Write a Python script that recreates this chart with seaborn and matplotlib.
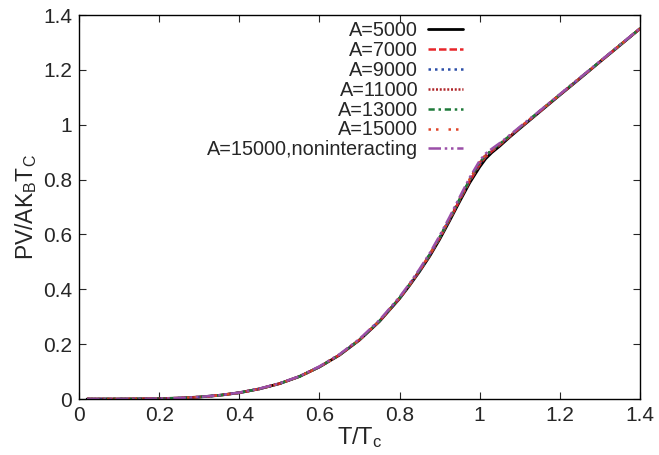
import matplotlib
matplotlib.use("Agg")
import matplotlib.pyplot as plt
import seaborn as sns
import pandas as pd

T = [0.02, 0.1, 0.15, 0.2, 0.25, 0.3, 0.35, 0.4, 0.45, 0.5, 0.55, 0.6, 0.65, 0.7, 0.75, 0.8,
     0.825, 0.85, 0.875, 0.9, 0.925, 0.95, 0.975, 1.0, 1.015, 1.03, 1.05, 1.075, 1.1,
     1.15, 1.2, 1.25, 1.3, 1.35, 1.4]
P_5000 = [0, 0.0001, 0.0005, 0.0015, 0.0035, 0.0073, 0.0135, 0.023, 0.037, 0.056, 0.082, 0.117, 0.16, 0.215, 0.283, 0.366,
          0.414, 0.465, 0.52, 0.582, 0.65, 0.72, 0.788, 0.846, 0.876, 0.898, 0.922, 0.955, 0.986,
          1.047, 1.108, 1.168, 1.229, 1.289, 1.35]
P_7000 = [0, 0.0001, 0.0005, 0.0015, 0.0035, 0.0073, 0.0135, 0.023, 0.037, 0.056, 0.082, 0.117, 0.161, 0.216, 0.284, 0.367,
          0.416, 0.467, 0.523, 0.586, 0.654, 0.725, 0.794, 0.854, 0.883, 0.903, 0.926, 0.957, 0.988,
          1.048, 1.109, 1.169, 1.229, 1.29, 1.35]
P_9000 = [0, 0.0001, 0.0005, 0.0015, 0.0035, 0.0073, 0.0135, 0.023, 0.037, 0.056, 0.082, 0.117, 0.161, 0.216, 0.285, 0.368,
          0.417, 0.468, 0.525, 0.588, 0.656, 0.727, 0.797, 0.858, 0.886, 0.905, 0.928, 0.958, 0.988,
          1.049, 1.109, 1.169, 1.23, 1.29, 1.35]
P_11000 = [0, 0.0001, 0.0005, 0.0015, 0.0035, 0.0073, 0.0135, 0.023, 0.037, 0.056, 0.082, 0.117, 0.161, 0.216, 0.285, 0.368,
           0.417, 0.469, 0.526, 0.589, 0.657, 0.728, 0.798, 0.86, 0.888, 0.906, 0.929, 0.959, 0.989,
           1.049, 1.11, 1.17, 1.23, 1.29, 1.35]
P_13000 = [0, 0.0001, 0.0005, 0.0015, 0.0035, 0.0073, 0.0135, 0.023, 0.037, 0.056, 0.082, 0.117, 0.161, 0.216, 0.285, 0.369,
           0.418, 0.47, 0.527, 0.59, 0.658, 0.729, 0.8, 0.862, 0.889, 0.907, 0.93, 0.96, 0.99,
           1.05, 1.11, 1.17, 1.23, 1.29, 1.35]
P_15000 = [0, 0.0001, 0.0005, 0.0015, 0.0035, 0.0073, 0.0135, 0.023, 0.037, 0.056, 0.082, 0.117, 0.161, 0.216, 0.285, 0.369,
           0.418, 0.47, 0.527, 0.59, 0.658, 0.73, 0.801, 0.863, 0.89, 0.908, 0.93, 0.96, 0.99,
           1.05, 1.11, 1.17, 1.23, 1.29, 1.35]
P_nonint = [0, 0.0001, 0.0005, 0.0015, 0.0036, 0.0075, 0.0138, 0.0235, 0.038, 0.057, 0.083, 0.119, 0.163, 0.219, 0.288, 0.372,
            0.421, 0.474, 0.531, 0.595, 0.664, 0.736, 0.807, 0.869, 0.895, 0.912, 0.933, 0.962, 0.992,
            1.051, 1.111, 1.171, 1.231, 1.291, 1.351]

labels = ["A=5000", "A=7000", "A=9000", "A=11000", "A=13000", "A=15000", "A=15000,noninteracting"]
series = [P_5000, P_7000, P_9000, P_11000, P_13000, P_15000, P_nonint]
colors = ["black", "#e8262a", "#2c4fa8", "#b0262a", "#1f7a3a", "#e0452a", "#9b4fa8"]
styles = ["-", (0, (3, 1.2)), (0, (1, 1.6)), (0, (0.8, 0.7)), (0, (2.5, 1.5, 1, 1.5)),
          (0, (1, 2, 1, 4)), (0, (5, 1.5, 1, 1.5, 1, 1.5))]

sns.set_style("ticks")
plt.rcParams['font.family'] = ['Liberation Sans', 'DejaVu Sans']
plt.rcParams['mathtext.fontset'] = 'custom'
plt.rcParams['mathtext.rm'] = 'Liberation Sans'
plt.rcParams['mathtext.it'] = 'Liberation Sans'

fig = plt.figure(figsize=(6.59, 4.55), dpi=100)
ax = fig.add_axes([0.12, 0.123, 0.851, 0.844])

for lab, vals, c, ls in zip(labels, series, colors, styles):
    df = pd.DataFrame({"T": T, "P": vals})
    sns.lineplot(data=df, x="T", y="P", ax=ax, color=c, linestyle=ls,
                 linewidth=2 if ls == "-" else 1.8, label=lab)

ticks = [0, 0.2, 0.4, 0.6, 0.8, 1.0, 1.2, 1.4]
tick_labels = ["0", "0.2", "0.4", "0.6", "0.8", "1", "1.2", "1.4"]
ax.set_xlim(0, 1.4)
ax.set_ylim(0, 1.4)
ax.set_xticks(ticks)
ax.set_xticklabels(tick_labels)
ax.set_yticks(ticks)
ax.set_yticklabels(tick_labels)
ax.tick_params(direction="in", top=True, right=True, labelsize=15, length=5, width=0.8, pad=5)
for s in ax.spines.values():
    s.set_linewidth(1.0)
    s.set_color("black")
ax.set_xlabel(r"T/T$_\mathregular{c}$", fontsize=17, labelpad=0)
ax.set_ylabel(r"PV/AK$_\mathregular{B}$T$_\mathregular{C}$", fontsize=16.5, labelpad=3)

leg = ax.legend(loc="upper right", bbox_to_anchor=(463 / 659, 1 - 21 / 455), bbox_transform=fig.transFigure,
                frameon=False, markerfirst=False, fontsize=14.3, handlelength=1.75, labelspacing=0.045,
                borderaxespad=0, borderpad=0, handletextpad=0.5)
for t in leg.get_texts():
    t.set_ha("right")
leg._legend_box.align = "right"

fig.savefig("out.png", dpi=100)
